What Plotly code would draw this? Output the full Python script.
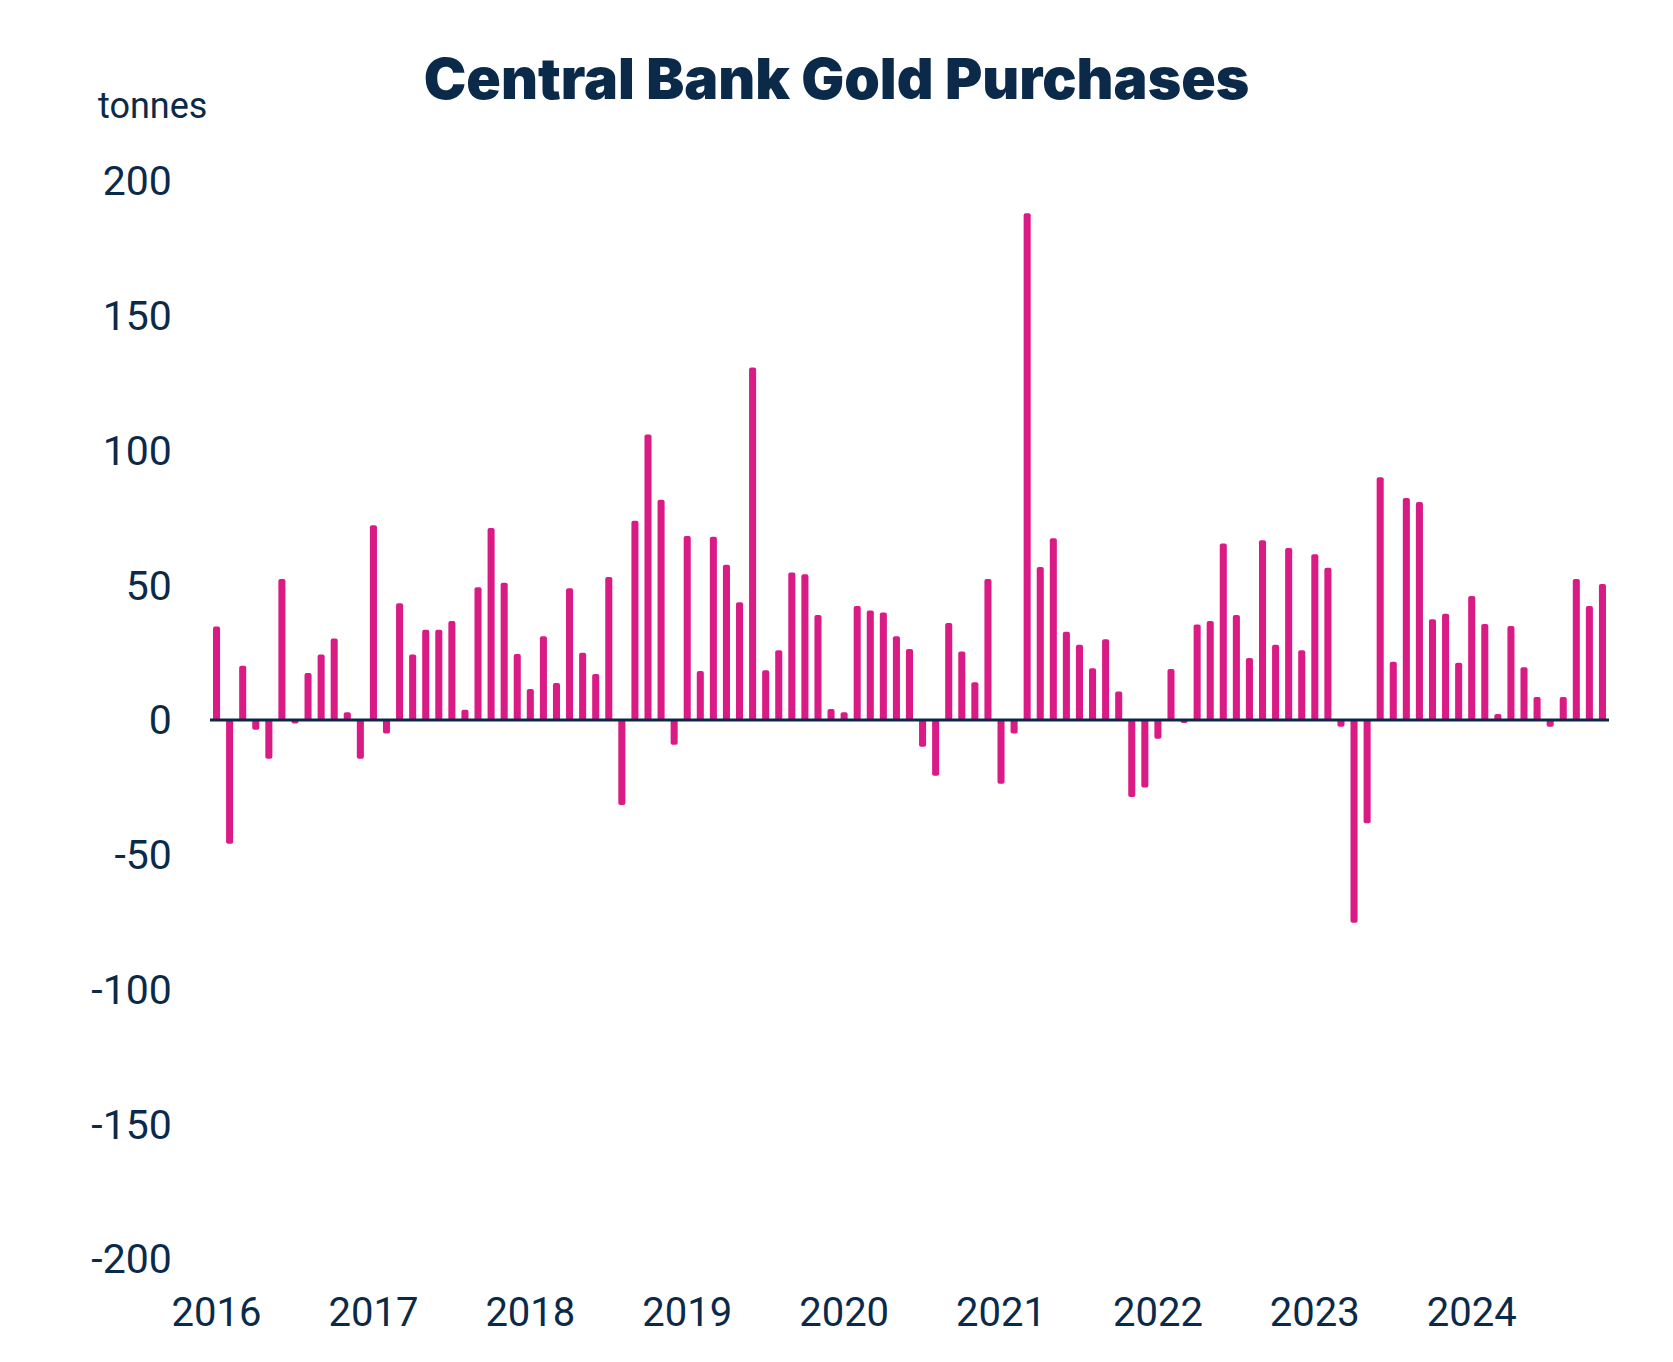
import plotly.graph_objects as go

# Monthly central bank net gold purchases (tonnes), Jan 2016 - Nov 2024
y2016 = [34.7, -45.9, 20.1, -3.6, -14.4, 52.3, -1.3, 17.4, 24.3, 30.2, 2.9, -14.4]
y2017 = [72.3, -5.0, 43.3, 24.3, 33.5, 33.5, 36.7, 3.8, 49.3, 71.2, 50.9, 24.5]
y2018 = [11.5, 31.1, 13.7, 48.9, 25.0, 17.1, 53.1, -31.5, 73.9, 105.9, 81.7, -9.2]
y2019 = [68.3, 18.2, 68.0, 57.6, 43.7, 130.8, 18.5, 25.9, 54.7, 54.1, 39.0, 4.1]
y2020 = [2.9, 42.3, 40.6, 39.9, 31.1, 26.3, -9.9, -20.7, 36.0, 25.4, 14.0, 52.3]
y2021 = [-23.7, -5.0, 188.0, 56.8, 67.4, 32.7, 27.9, 19.2, 30.0, 10.6, -28.6, -25.0]
y2022 = [-7.0, 18.9, -1.1, 35.4, 36.7, 65.5, 39.0, 23.0, 66.7, 27.9, 63.8, 25.9]
y2023 = [61.5, 56.5, -2.5, -75.2, -38.3, 90.1, 21.6, 82.4, 80.9, 37.4, 39.4, 21.2]
y2024 = [46.0, 35.6, 2.2, 34.9, 19.6, 8.5, -2.5, 8.5, 52.3, 42.3, 50.5]

years = ["2016", "2017", "2018", "2019", "2020", "2021", "2022", "2023", "2024"]
y_ticks = [-200, -150, -100, -50, 0, 50, 100, 150, 200]

values = y2016 + y2017 + y2018 + y2019 + y2020 + y2021 + y2022 + y2023 + y2024
months = list(range(len(values)))
year_pos = [12 * i for i in range(len(years))]

NAVY = "#0b2a4a"
PINK = "#da1b86"

fig = go.Figure()
fig.add_trace(go.Bar(x=months, y=values, width=0.54,
                     marker=dict(color=PINK, line=dict(width=0), cornerradius=2),
                     hoverinfo="x+y"))

fig.add_shape(type="line", xref="paper", x0=0, x1=1, yref="y", y0=0, y1=0,
              line=dict(color=NAVY, width=3), layer="above")

fig.update_layout(
    width=1673, height=1362,
    paper_bgcolor="white", plot_bgcolor="white",
    margin=dict(l=210, r=64, t=181, b=103),
    showlegend=False,
    font=dict(family="Roboto", color=NAVY, size=40),
    title=dict(text="Central Bank Gold Purchases", x=0.5, xanchor="center",
               y=1 - 79 / 1362, yanchor="middle",
               font=dict(family="Inter", size=57, weight=900, color=NAVY)),
    xaxis=dict(range=[-0.5, len(values) - 0.5], tickvals=year_pos, ticktext=years,
               showgrid=False, zeroline=False, showline=False,
               ticks="outside", ticklen=18, tickcolor="rgba(0,0,0,0)",
               tickfont=dict(size=40, family="Roboto", color=NAVY)),
    yaxis=dict(range=[-200, 200], tickvals=y_ticks, ticktext=[str(v) for v in y_ticks],
               showgrid=False, zeroline=False, showline=False,
               ticks="outside", ticklen=29, tickcolor="rgba(0,0,0,0)",
               tickfont=dict(size=41, family="Roboto", color=NAVY)),
    annotations=[dict(text="tonnes", xref="paper", yref="paper", x=-114 / 1399, y=1 + 75 / 1078,
                      xanchor="left", yanchor="middle", showarrow=False,
                      font=dict(size=36, family="Roboto", color=NAVY))],
)

fig.write_html("out.html", config={"displayModeBar": False},
               post_script="document.body.style.margin='0';")
